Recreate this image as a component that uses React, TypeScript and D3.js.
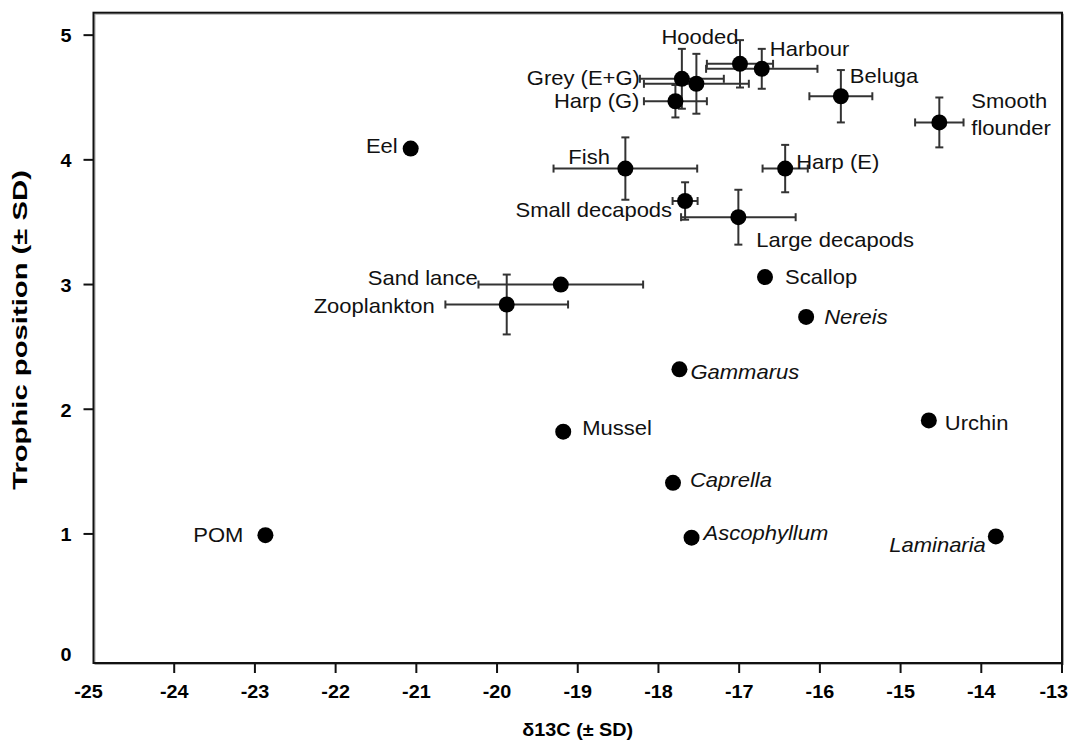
import { useEffect, useRef } from "react";
import * as d3 from "d3";

// species / groups, in drawing order
const names = [
  "POM", "Eel", "Sand lance", "Zooplankton", "Mussel", "Fish",
  "Small decapods", "Large decapods", "Harp (E)", "Scallop", "Nereis",
  "Gammarus", "Caprella", "Ascophyllum", "Urchin", "Laminaria",
  "Grey (E+G)", "Grey (E+G) b", "Harp (G)", "Hooded", "Harbour",
  "Beluga", "Smooth flounder",
];
// mean d13C
const d13C = [
  -22.87, -21.07, -19.21, -19.88, -19.18, -18.41,
  -17.67, -17.01, -16.43, -16.68, -16.17,
  -17.74, -17.82, -17.59, -14.65, -13.82,
  -17.71, -17.53, -17.79, -16.99, -16.72,
  -15.74, -14.52,
];
// SD of d13C
const d13CSD = [
  0, 0, 1.02, 0.76, 0, 0.89,
  0.155, 0.71, 0.28, 0, 0,
  0, 0, 0, 0, 0,
  0.52, 0.65, 0.39, 0.41, 0.69,
  0.39, 0.3,
];
// mean trophic position
const trophic = [
  0.99, 4.09, 3.0, 2.84, 1.82, 3.93,
  3.67, 3.54, 3.93, 3.06, 2.74,
  2.32, 1.41, 0.97, 1.91, 0.98,
  4.65, 4.61, 4.47, 4.77, 4.73,
  4.51, 4.3,
];
// SD of trophic position
const trophicSD = [
  0, 0, 0, 0.24, 0, 0.25,
  0.15, 0.22, 0.19, 0, 0,
  0, 0, 0, 0, 0,
  0.24, 0.24, 0.13, 0.19, 0.16,
  0.21, 0.2,
];
// labels shown next to points ("" = no label); italic for genus names
const labels = [
  "POM", "Eel", "Sand lance", "Zooplankton", "Mussel", "Fish",
  "Small decapods", "Large decapods", "Harp (E)", "Scallop", "Nereis",
  "Gammarus", "Caprella", "Ascophyllum", "Urchin", "Laminaria",
  "Grey (E+G)", "", "Harp (G)", "Hooded", "Harbour",
  "Beluga", "Smooth|flounder",
];
const italicNames = ["Nereis", "Gammarus", "Caprella", "Ascophyllum", "Laminaria"];

const xTicks = [-25, -24, -23, -22, -21, -20, -19, -18, -17, -16, -15, -14, -13];
const yTicks = [0, 1, 2, 3, 4, 5];

// label placement relative to point (px) - layout only
const labelPos: Record<string, [number, number, string]> = {
  "POM": [-22, 0, "end"],
  "Eel": [-13, -3, "end"],
  "Sand lance": [-83, -7, "end"],
  "Zooplankton": [-72, 2, "end"],
  "Mussel": [19, -4, "start"],
  "Fish": [-57, -12, "start"],
  "Small decapods": [-13, 9, "end"],
  "Large decapods": [18, 23, "start"],
  "Harp (E)": [11, -7, "start"],
  "Scallop": [20, 0, "start"],
  "Nereis": [18, 0, "start"],
  "Gammarus": [11, 3, "start"],
  "Caprella": [17, -3, "start"],
  "Ascophyllum": [12, -5, "start"],
  "Urchin": [16, 3, "start"],
  "Laminaria": [-10, 9, "end"],
  "Grey (E+G)": [-42, -1, "end"],
  "Harp (G)": [-36, 0, "end"],
  "Hooded": [-40, -27, "middle"],
  "Harbour": [8, -20, "start"],
  "Beluga": [9, -20, "start"],
  "Smooth flounder": [32, -21, "start"],
};

export default function App() {
  const ref = useRef<SVGSVGElement>(null);

  useEffect(() => {
    const svg = d3.select(ref.current);
    svg.selectAll("*").remove();

    const width = 1071;
    const height = 744;
    svg.attr("width", width).attr("height", height);

    const x = d3.scaleLinear().domain([-25, -13]).range([93.5, 1062]);
    const y = d3.scaleLinear().domain([-0.035, 5.18]).range([663, 12.7]);

    const font = "Liberation Sans, Arial, sans-serif";
    const stretch = "scale(1.1,1)";

    // frame (with faint grey shadow like the scanned original)
    svg
      .append("rect")
      .attr("x", x(-25) + 1.5)
      .attr("y", y(5.18) + 1.5)
      .attr("width", x(-13) - x(-25))
      .attr("height", y(-0.035) - y(5.18))
      .attr("fill", "none")
      .attr("stroke", "#aaa")
      .attr("stroke-width", 1);
    svg
      .append("rect")
      .attr("x", x(-25))
      .attr("y", y(5.18))
      .attr("width", x(-13) - x(-25))
      .attr("height", y(-0.035) - y(5.18))
      .attr("fill", "none")
      .attr("stroke", "#111")
      .attr("stroke-width", 2);

    // y ticks
    yTicks.forEach((t) => {
      if (t > 0) {
        svg
          .append("line")
          .attr("x1", x(-25) - 10)
          .attr("x2", x(-25))
          .attr("y1", y(t))
          .attr("y2", y(t))
          .attr("stroke", "#111")
          .attr("stroke-width", 2);
      }
      svg
        .append("g")
        .attr("transform", `translate(${x(-25) - 22},${y(t) + (t === 0 ? -4 : 1)})`)
        .append("text")
        .attr("transform", stretch)
        .attr("text-anchor", "end")
        .attr("dy", "0.35em")
        .attr("font-family", font)
        .attr("font-size", 18)
        .attr("font-weight", "bold")
        .text(t);
    });

    // x ticks
    xTicks.forEach((t, i) => {
      if (t > -25) {
        svg
          .append("line")
          .attr("x1", x(t))
          .attr("x2", x(t))
          .attr("y1", y(-0.035))
          .attr("y2", y(-0.035) + 10)
          .attr("stroke", "#111")
          .attr("stroke-width", 2);
      }
      const last = i === xTicks.length - 1;
      const first = i === 0;
      svg
        .append("g")
        .attr("transform", `translate(${last ? width - 3 : first ? x(t) - 5 : x(t)},${y(-0.035) + 29})`)
        .append("text")
        .attr("transform", stretch)
        .attr("text-anchor", last ? "end" : "middle")
        .attr("dy", "0.35em")
        .attr("font-family", font)
        .attr("font-size", 18)
        .attr("font-weight", "bold")
        .text(t);
    });

    // axis titles
    svg
      .append("g")
      .attr("transform", `translate(${(x(-25) + x(-13)) / 2},730)`)
      .append("text")
      .attr("transform", stretch)
      .attr("text-anchor", "middle")
      .attr("dy", "0.35em")
      .attr("font-family", font)
      .attr("font-size", 18)
      .attr("font-weight", "bold")
      .text("\u03b413C (\u00b1 SD)");

    svg
      .append("g")
      .attr("transform", `translate(20,330) rotate(-90)`)
      .append("text")
      .attr("transform", "scale(1.5,1)")
      .attr("text-anchor", "middle")
      .attr("dy", "0.35em")
      .attr("font-family", font)
      .attr("font-size", 19.5)
      .attr("font-weight", "bold")
      .text("Trophic position (\u00b1 SD)");

    const data = names.map((n, i) => ({
      name: n,
      x: d13C[i],
      y: trophic[i],
      xsd: d13CSD[i],
      ysd: trophicSD[i],
      label: labels[i],
    }));

    const bars = svg.append("g").attr("stroke", "#333").attr("stroke-width", 2);
    const cap = 4;
    data.forEach((d) => {
      if (d.xsd > 0) {
        const x0 = x(d.x - d.xsd);
        const x1 = x(d.x + d.xsd);
        const cy = y(d.y);
        bars.append("line").attr("x1", x0).attr("x2", x1).attr("y1", cy).attr("y2", cy);
        bars.append("line").attr("x1", x0).attr("x2", x0).attr("y1", cy - cap).attr("y2", cy + cap);
        bars.append("line").attr("x1", x1).attr("x2", x1).attr("y1", cy - cap).attr("y2", cy + cap);
      }
      if (d.ysd > 0) {
        const y0 = y(d.y - d.ysd);
        const y1 = y(d.y + d.ysd);
        const cx = x(d.x);
        bars.append("line").attr("x1", cx).attr("x2", cx).attr("y1", y0).attr("y2", y1);
        bars.append("line").attr("x1", cx - cap).attr("x2", cx + cap).attr("y1", y0).attr("y2", y0);
        bars.append("line").attr("x1", cx - cap).attr("x2", cx + cap).attr("y1", y1).attr("y2", y1);
      }
    });

    svg
      .append("g")
      .selectAll("circle")
      .data(data)
      .join("circle")
      .attr("cx", (d) => x(d.x))
      .attr("cy", (d) => y(d.y))
      .attr("r", 8)
      .attr("fill", "#000");

    // point labels
    data.forEach((d) => {
      if (!d.label) return;
      const pos = labelPos[d.name];
      const g = svg
        .append("g")
        .attr("transform", `translate(${x(d.x) + pos[0]},${y(d.y) + pos[1]})`);
      const lines = d.label.split("|");
      lines.forEach((ln, k) => {
        g.append("text")
          .attr("transform", stretch)
          .attr("y", k * 27)
          .attr("dy", "0.35em")
          .attr("text-anchor", pos[2])
          .attr("font-family", font)
          .attr("font-size", 20)
          .attr("font-style", italicNames.includes(d.name) ? "italic" : "normal")
          .attr("fill", "#111")
          .text(ln);
      });
    });
  }, []);

  return <svg ref={ref} style={{ position: "absolute", left: 0, top: 0 }}></svg>;
}
